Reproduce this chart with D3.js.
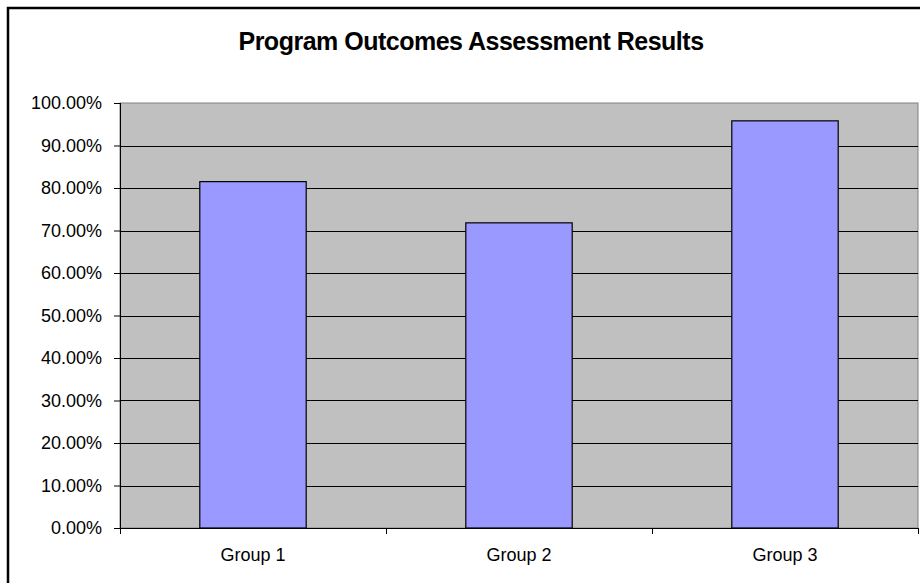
<!DOCTYPE html>
<html>
<head>
<meta charset="utf-8">
<script src="https://cdn.jsdelivr.net/npm/d3@7/dist/d3.min.js"></script>
<style>
  body { margin: 0; background: #fff; }
  svg { display: block; font-family: Arial, "Liberation Sans", sans-serif; }
  .yAxis text, .xAxis text { fill: #000; font-size: 18px; }
  .yAxis path, .xAxis path { display: none; }
  .yAxis line, .xAxis line { stroke: #000; }
</style>
</head>
<body>
<svg id="chart" width="920" height="583"></svg>
<script>
/*
  PROGRAM OUTCOMES
  Column chart of the assessment results per group
*/
const title = 'Program Outcomes Assessment Results';
const categories = ['Group 1', 'Group 2', 'Group 3'];
const results = [81.5, 71.8, 95.8];
const yTicks = [0, 10, 20, 30, 40, 50, 60, 70, 80, 90, 100];

const WIDTH = 920;
const HEIGHT = 583;
const plot = { left: 120, top: 103, right: 918, bottom: 528 };

/**
 * Create scales
 */
const scale = {};
scale.x = d3.scaleBand()
  .domain(categories)
  .range([plot.left, plot.right])
  .paddingInner(0.6)
  .paddingOuter(0.3);

scale.y = d3.scaleLinear()
  .domain([0, 100])
  .range([plot.bottom, plot.top]);

const dom = {};
dom.svg = d3.select('#chart');

// outer chart frame (right and bottom edges fall outside the picture)
dom.svg.append('rect')
  .attr('x', 8)
  .attr('y', 8)
  .attr('width', WIDTH + 20)
  .attr('height', HEIGHT + 20)
  .attr('fill', '#fff')
  .attr('stroke', '#000')
  .attr('stroke-width', 2.5);

dom.svg.append('text')
  .attr('x', 471)
  .attr('y', 50)
  .attr('text-anchor', 'middle')
  .attr('font-size', 25)
  .attr('font-weight', 'bold')
  .attr('letter-spacing', -0.5)
  .text(title);

/*
 * Plot area and grid
 */
dom.svg.append('rect')
  .attr('x', plot.left)
  .attr('y', plot.top)
  .attr('width', plot.right - plot.left)
  .attr('height', plot.bottom - plot.top)
  .attr('fill', '#c0c0c0')
  .attr('stroke', '#808080')
  .attr('stroke-width', 1);

dom.svg.append('g')
  .attr('class', 'grid')
  .selectAll('line')
  .data(yTicks.filter(d => d > 0 && d < 100))
  .join('line')
  .attr('x1', plot.left)
  .attr('x2', plot.right)
  .attr('y1', d => Math.round(scale.y(d)) + 0.5)
  .attr('y2', d => Math.round(scale.y(d)) + 0.5)
  .attr('stroke', '#000');

/*
 * Bars
 */
dom.svg.append('g')
  .attr('class', 'bars')
  .selectAll('rect')
  .data(results)
  .join('rect')
  .attr('x', (d, i) => scale.x(categories[i]))
  .attr('y', d => scale.y(d))
  .attr('width', scale.x.bandwidth())
  .attr('height', d => scale.y(0) - scale.y(d))
  .attr('fill', '#9999ff')
  .attr('stroke', '#000')
  .attr('stroke-width', 1.2);

/*
 * Axes
 */
const axis = {};
axis.y = d3.axisLeft(scale.y)
  .tickValues(yTicks)
  .tickSize(6)
  .tickPadding(12)
  .tickFormat(d => d.toFixed(2) + '%');

axis.x = d3.axisBottom(scale.x)
  .tickSize(0)
  .tickPadding(20);

dom.svg.append('g')
  .attr('class', 'yAxis')
  .attr('transform', `translate(${plot.left}, 0)`)
  .call(axis.y);

dom.svg.append('g')
  .attr('class', 'xAxis')
  .attr('transform', `translate(0, ${plot.bottom})`)
  .call(axis.x);

// axis lines and category boundary ticks
dom.svg.append('line')
  .attr('x1', plot.left).attr('x2', plot.right)
  .attr('y1', plot.bottom + 0.5).attr('y2', plot.bottom + 0.5)
  .attr('stroke', '#000');

dom.svg.append('line')
  .attr('x1', plot.left + 0.5).attr('x2', plot.left + 0.5)
  .attr('y1', plot.top).attr('y2', plot.bottom + 6)
  .attr('stroke', '#000');

const bounds = d3.range(categories.length + 1)
  .map(i => plot.left + i * scale.x.step());

dom.svg.append('g')
  .selectAll('line')
  .data(bounds)
  .join('line')
  .attr('x1', d => Math.round(d) + 0.5)
  .attr('x2', d => Math.round(d) + 0.5)
  .attr('y1', plot.bottom)
  .attr('y2', plot.bottom + 6)
  .attr('stroke', '#000');
</script>
</body>
</html>
